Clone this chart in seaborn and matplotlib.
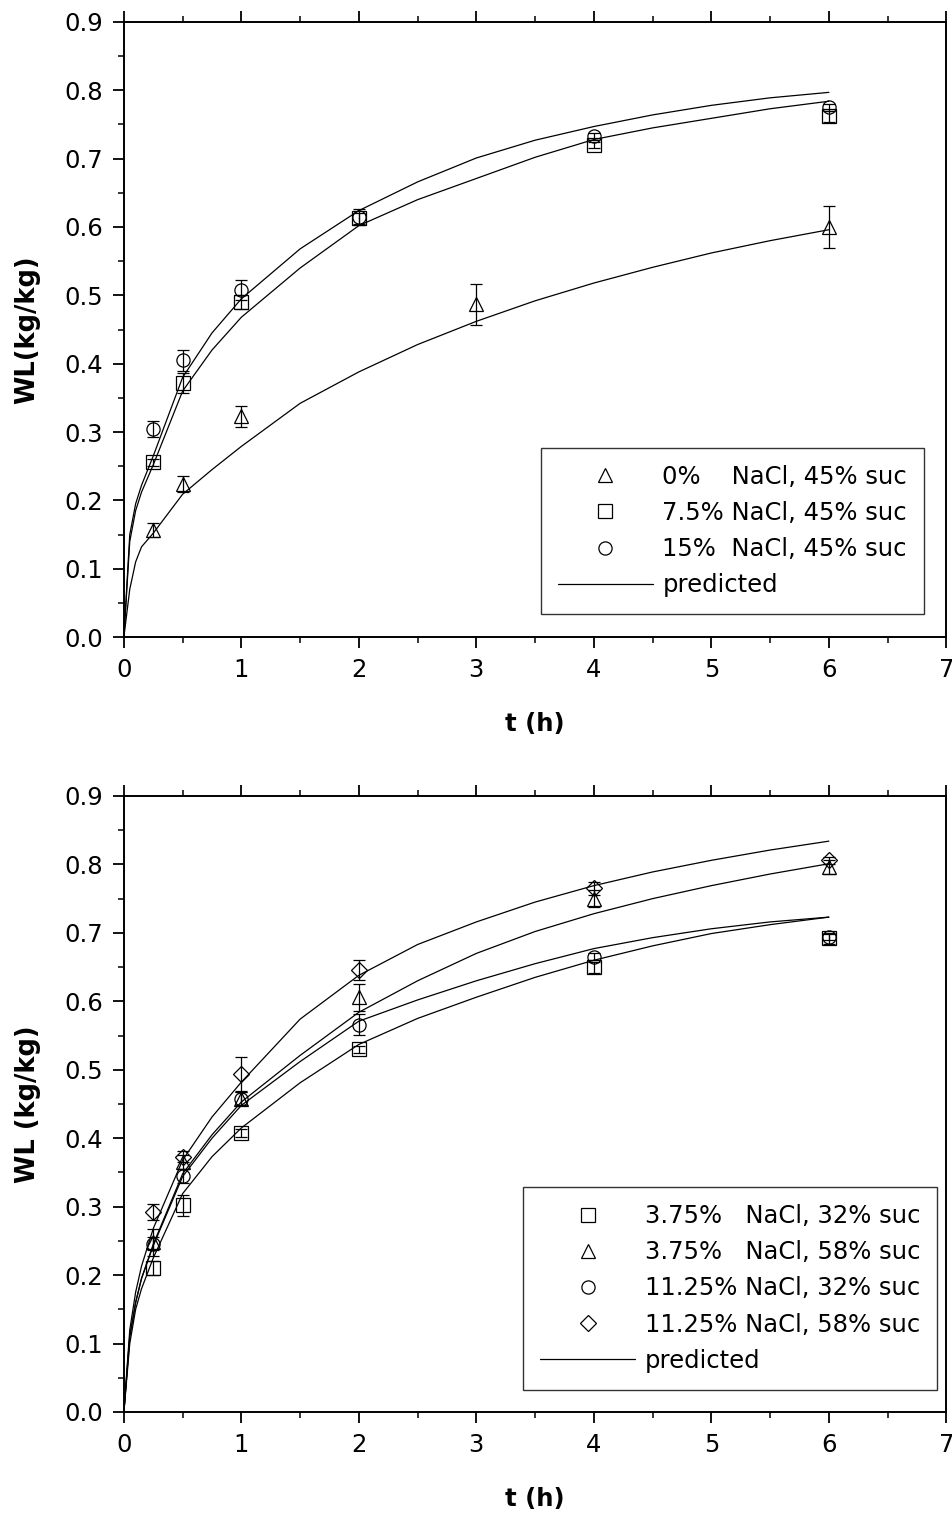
import numpy as np
import pandas as pd
import matplotlib
matplotlib.use("Agg")
import matplotlib.pyplot as plt
import seaborn as sns
from matplotlib.lines import Line2D
from matplotlib.ticker import MultipleLocator, FormatStrFormatter

# ---------------- data: top panel (45% sucrose) ----------------
top_labels = ["0%    NaCl, 45% suc", "7.5% NaCl, 45% suc", "15%  NaCl, 45% suc"]
top_markers = ["^", "s", "o"]

top_tri_t = [0.25, 0.5, 1, 3, 6]
top_tri_wl = [0.157, 0.224, 0.323, 0.487, 0.600]
top_tri_err = [0.010, 0.012, 0.015, 0.030, 0.030]

top_sq_t = [0.25, 0.5, 1, 2, 4, 6]
top_sq_wl = [0.256, 0.372, 0.490, 0.613, 0.720, 0.762]
top_sq_err = [0.005, 0.015, 0.010, 0.008, 0.005, 0.008]

top_ci_t = [0.25, 0.5, 1, 2, 4, 6]
top_ci_wl = [0.304, 0.405, 0.508, 0.615, 0.733, 0.775]
top_ci_err = [0.012, 0.015, 0.015, 0.012, 0.005, 0.005]

# predicted curves
pred_t = [0, 0.05, 0.1, 0.15, 0.25, 0.5, 0.75, 1, 1.5, 2, 2.5, 3, 3.5, 4, 4.5, 5, 5.5, 6]
top_pred_15 = [0, 0.150, 0.195, 0.222, 0.265, 0.380, 0.445, 0.495, 0.568, 0.624, 0.666, 0.701, 0.727, 0.747, 0.764, 0.778, 0.789, 0.797]
top_pred_75 = [0, 0.140, 0.185, 0.212, 0.252, 0.360, 0.420, 0.468, 0.540, 0.602, 0.640, 0.671, 0.702, 0.728, 0.745, 0.759, 0.773, 0.784]
top_pred_0 = [0, 0.070, 0.110, 0.132, 0.152, 0.209, 0.245, 0.279, 0.342, 0.388, 0.428, 0.462, 0.492, 0.518, 0.541, 0.562, 0.580, 0.596]

# ---------------- data: bottom panel ----------------
bot_labels = ["3.75%   NaCl, 32% suc", "3.75%   NaCl, 58% suc",
              "11.25% NaCl, 32% suc", "11.25% NaCl, 58% suc"]
bot_markers = ["s", "^", "o", "D"]

bot_t = [0.25, 0.5, 1, 2, 4, 6]
bot_sq_wl = [0.210, 0.302, 0.408, 0.530, 0.650, 0.692]
bot_sq_err = [0.010, 0.015, 0.006, 0.005, 0.008, 0.008]
bot_tri_wl = [0.248, 0.365, 0.458, 0.606, 0.750, 0.796]
bot_tri_err = [0.020, 0.010, 0.010, 0.020, 0.012, 0.010]
bot_ci_wl = [0.246, 0.345, 0.458, 0.566, 0.665, 0.694]
bot_ci_err = [0.010, 0.010, 0.010, 0.015, 0.005, 0.005]
bot_di_wl = [0.292, 0.373, 0.494, 0.646, 0.765, 0.806]
bot_di_err = [0.012, 0.008, 0.025, 0.015, 0.010, 0.005]

bot_pred_di = [0, 0.120, 0.175, 0.213, 0.268, 0.368, 0.431, 0.482, 0.574, 0.638, 0.683, 0.716, 0.745, 0.769, 0.789, 0.806, 0.821, 0.834]
bot_pred_tri = [0, 0.110, 0.160, 0.195, 0.245, 0.348, 0.405, 0.453, 0.521, 0.584, 0.630, 0.670, 0.702, 0.728, 0.750, 0.769, 0.786, 0.801]
bot_pred_ci = [0, 0.110, 0.160, 0.195, 0.243, 0.344, 0.400, 0.448, 0.512, 0.571, 0.602, 0.630, 0.655, 0.677, 0.693, 0.706, 0.716, 0.723]
bot_pred_sq = [0, 0.100, 0.150, 0.180, 0.225, 0.319, 0.373, 0.415, 0.481, 0.537, 0.575, 0.606, 0.635, 0.660, 0.681, 0.699, 0.712, 0.723]

xticks = [0, 1, 2, 3, 4, 5, 6, 7]
yticks = [0.0, 0.1, 0.2, 0.3, 0.4, 0.5, 0.6, 0.7, 0.8, 0.9]

# ---------------- style ----------------
sns.set_theme(style="white")
plt.rcParams["font.family"] = ["DejaVu Sans"]
for key in ["text.color", "axes.labelcolor", "xtick.color", "ytick.color",
            "axes.edgecolor"]:
    plt.rcParams[key] = "black"
plt.rcParams["axes.linewidth"] = 1.4

FS = 17.5
MS = 9.5
MS_D = 8.5

fig = plt.figure(figsize=(9.53, 15.15), dpi=100)
ax1 = fig.add_axes([0.130, 0.5795, 0.863, 0.406])
ax2 = fig.add_axes([0.130, 0.068, 0.863, 0.4066])


def pred_frame(curves):
    rows = []
    for name, vals in curves.items():
        for t, v in zip(pred_t, vals):
            rows.append({"t": t, "WL": v, "curve": name})
    return pd.DataFrame(rows)


def style_axes(ax, ylabel):
    ax.set_xlim(0, 7)
    ax.set_ylim(0, 0.9)
    ax.set_xticks(xticks)
    ax.set_yticks(yticks)
    ax.xaxis.set_minor_locator(MultipleLocator(0.5))
    ax.yaxis.set_minor_locator(MultipleLocator(0.05))
    ax.yaxis.set_major_formatter(FormatStrFormatter("%.1f"))
    ax.tick_params(which="major", direction="out", length=8, width=1.3,
                   labelsize=FS, pad=7, color="black", labelcolor="black",
                   bottom=True, left=True, top=True, right=False, labeltop=False)
    ax.tick_params(which="minor", direction="out", length=4.5, width=1.1,
                   bottom=True, left=True, top=True, right=False, color="black")
    for s in ax.spines.values():
        s.set_visible(True)
        s.set_color("black")
        s.set_linewidth(1.4)
    ax.set_xlabel("t (h)", fontsize=FS, fontweight="bold", labelpad=22,
                  color="black")
    ax.set_ylabel(ylabel, fontsize=18.5, fontweight="bold", labelpad=17,
                  color="black")
    ax.grid(False)


def draw_points(ax, t, wl, err, marker):
    ms = MS if marker != "D" else MS_D
    ax.errorbar(t, wl, yerr=err, fmt=marker, mfc="none", mec="black", ms=ms,
                mew=0.9, ecolor="black", elinewidth=0.9, capsize=4.5,
                capthick=0.9, ls="none", zorder=3)


def make_legend(ax, labels, markers, anchor):
    handles = []
    for lab, m in zip(labels, markers):
        ms = MS if m != "D" else MS_D
        handles.append(Line2D([], [], ls="none", marker=m, mfc="none",
                              mec="black", mew=0.9, ms=ms, label=lab))
    handles.append(Line2D([], [], color="black", lw=0.9, label="predicted"))
    leg = ax.legend(handles=handles, loc="lower right", bbox_to_anchor=anchor,
                    borderaxespad=0, frameon=True, fancybox=False,
                    edgecolor="black", fontsize=FS, handlelength=3.9,
                    handletextpad=0.4, labelspacing=0.5, borderpad=0.7)
    leg.get_frame().set_linewidth(1.0)
    for txt in leg.get_texts():
        txt.set_color("black")
    return leg


# ---------------- top panel ----------------
df_top = pred_frame({"15": top_pred_15, "7.5": top_pred_75, "0": top_pred_0})
sns.lineplot(data=df_top, x="t", y="WL", units="curve", estimator=None,
             color="black", lw=0.9, ax=ax1, legend=False, sort=True)
draw_points(ax1, top_tri_t, top_tri_wl, top_tri_err, "^")
draw_points(ax1, top_sq_t, top_sq_wl, top_sq_err, "s")
draw_points(ax1, top_ci_t, top_ci_wl, top_ci_err, "o")
style_axes(ax1, "WL(kg/kg)")
make_legend(ax1, top_labels, top_markers, (0.973, 0.037))

# ---------------- bottom panel ----------------
df_bot = pred_frame({"di": bot_pred_di, "tri": bot_pred_tri,
                     "ci": bot_pred_ci, "sq": bot_pred_sq})
sns.lineplot(data=df_bot, x="t", y="WL", units="curve", estimator=None,
             color="black", lw=0.9, ax=ax2, legend=False, sort=True)
draw_points(ax2, bot_t, bot_sq_wl, bot_sq_err, "s")
draw_points(ax2, bot_t, bot_tri_wl, bot_tri_err, "^")
draw_points(ax2, bot_t, bot_ci_wl, bot_ci_err, "o")
draw_points(ax2, bot_t, bot_di_wl, bot_di_err, "D")
style_axes(ax2, "WL (kg/kg)")
make_legend(ax2, bot_labels, bot_markers, (0.989, 0.036))

fig.savefig("out.png", dpi=100)
